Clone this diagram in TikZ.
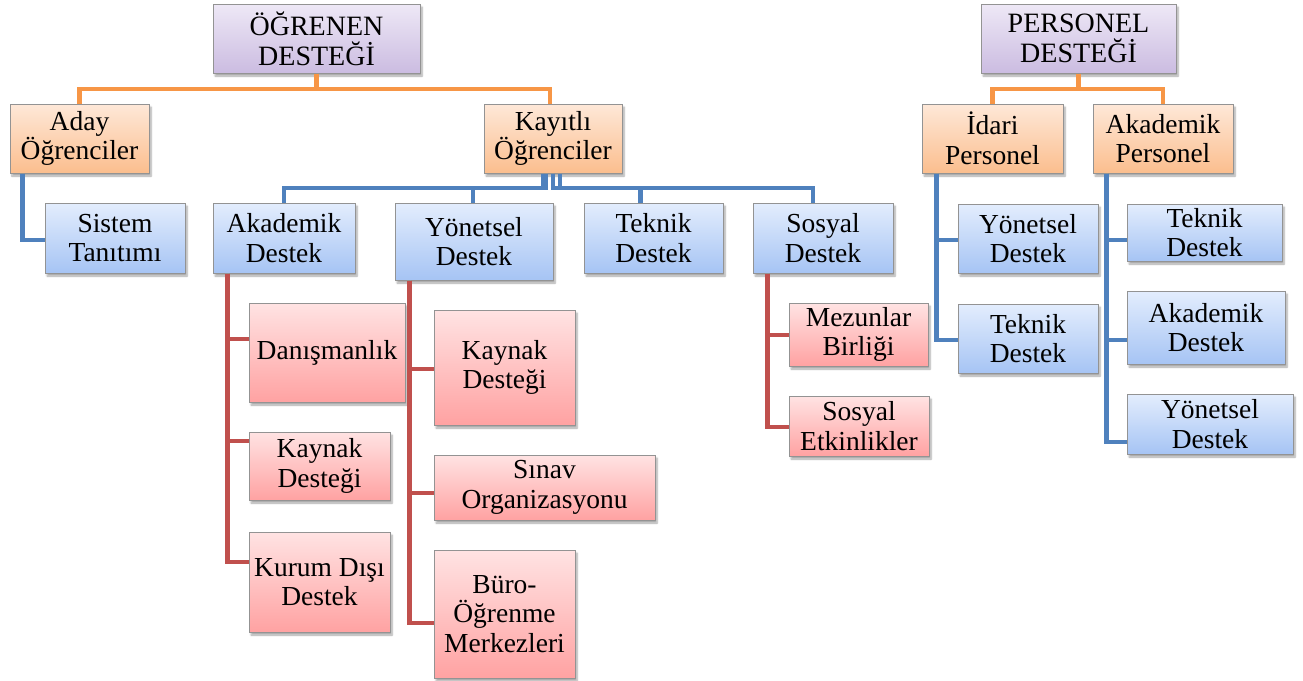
\documentclass[tikz,border=0pt]{standalone}
\usepackage{fontspec}
\setmainfont{Liberation Serif}
\usetikzlibrary{shadows.blur}
\definecolor{ptop}{HTML}{EEE8F6}
\definecolor{pbot}{HTML}{CBBCE1}
\definecolor{otop}{HTML}{FEE8D8}
\definecolor{obot}{HTML}{FBBE8E}
\definecolor{btop}{HTML}{E3EDFD}
\definecolor{bbot}{HTML}{A6C4F4}
\definecolor{rtop}{HTML}{FFE3E3}
\definecolor{rbot}{HTML}{FFA2A2}
\definecolor{oline}{HTML}{F79646}
\definecolor{bline}{HTML}{4F81BD}
\definecolor{rline}{HTML}{C0504D}
\tikzset{
  box/.style={rectangle, draw=gray!85, line width=1pt, inner sep=0pt, align=center,
    font=\fontsize{27.5}{29.5}\selectfont,
    blur shadow={shadow xshift=2pt, shadow yshift=-3pt, shadow blur steps=6, shadow opacity=35}},
  pbox/.style={box, top color=ptop, bottom color=pbot, font=\fontsize{28}{30}\selectfont},
  obox/.style={box, top color=otop, bottom color=obot},
  bbox/.style={box, top color=btop, bottom color=bbot},
  rbox/.style={box, top color=rtop, bottom color=rbot},
  oconn/.style={draw=oline, line width=4.5pt},
  bconn/.style={draw=bline, line width=4.5pt},
  rconn/.style={draw=rline, line width=4.5pt},
}
\begin{document}
\begin{tikzpicture}[x=1pt,y=-1pt]
\useasboundingbox (0,0) rectangle (1303,680);
% top level
\node[pbox, minimum width=207, minimum height=69] (ogr) at (316.5,38.5) {ÖĞRENEN\\DESTEĞİ};
\node[pbox, minimum width=195, minimum height=69] (per) at (1078.5,38.5) {PERSONEL\\DESTEĞİ};
% second level
\node[obox, minimum width=139, minimum height=69] (aday) at (79.5,138.5) {Aday\\Öğrenciler};
\node[obox, minimum width=138, minimum height=69] (kay) at (553,138.5) {Kayıtlı\\Öğrenciler};
\node[obox, minimum width=141, minimum height=69] (ida) at (992.5,138.5) {İdari\\Personel};
\node[obox, minimum width=140, minimum height=69] (akp) at (1163,138.5) {Akademik\\Personel};
% third level
\node[bbox, minimum width=140, minimum height=70] (sis) at (115,238) {Sistem\\Tanıtımı};
\node[bbox, minimum width=142, minimum height=70] (akd) at (284,238) {Akademik\\Destek};
\node[bbox, minimum width=158, minimum height=77] (yon) at (474,241.5) {Yönetsel\\Destek};
\node[bbox, minimum width=139, minimum height=70] (tek) at (653.5,238) {Teknik\\Destek};
\node[bbox, minimum width=140, minimum height=70] (sos) at (823,238) {Sosyal\\Destek};
\node[bbox, minimum width=140, minimum height=69] (iyon) at (1028,238.5) {Yönetsel\\Destek};
\node[bbox, minimum width=140, minimum height=69] (itek) at (1028,338.5) {Teknik\\Destek};
\node[bbox, minimum width=155, minimum height=57] (atek) at (1204.5,232.5) {Teknik\\Destek};
\node[bbox, minimum width=158, minimum height=73] (aakd) at (1206,327.5) {Akademik\\Destek};
\node[bbox, minimum width=166, minimum height=60] (ayon) at (1210,424) {Yönetsel\\Destek};
% fourth level
\node[rbox, minimum width=156, minimum height=99] (dan) at (327,352.5) {Danışmanlık};
\node[rbox, minimum width=141, minimum height=68] (kd1) at (319.5,466) {Kaynak\\Desteği};
\node[rbox, minimum width=141, minimum height=100] (kur) at (319.5,582) {Kurum Dışı\\Destek};
\node[rbox, minimum width=141, minimum height=115] (kd2) at (504.5,367.5) {Kaynak\\Desteği};
\node[rbox, minimum width=221, minimum height=65] (sin) at (544.5,487.5) {Sınav\\Organizasyonu};
\node[rbox, minimum width=141, minimum height=128] (bur) at (504.5,614) {Büro-\\Öğrenme\\Merkezleri};
\node[rbox, minimum width=139, minimum height=63] (mez) at (858.5,334.5) {Mezunlar\\Birliği};
\node[rbox, minimum width=140, minimum height=60] (etk) at (859,426) {Sosyal\\Etkinlikler};
% bars
\coordinate (obar) at (0,89);
\coordinate (bbar) at (0,188);
% orange connectors
\draw[oconn] (ogr.south) -- (ogr.south |- obar) -| (aday.north);
\draw[oconn] (ogr.south) -- (ogr.south |- obar) -| ([xshift=-3pt]kay.north);
\draw[oconn] (per.south) -- (per.south |- obar) -| (ida.north);
\draw[oconn] (per.south) -- (per.south |- obar) -| (akp.north);
% blue connectors
\draw[bconn] ([xshift=13pt]aday.south west) |- ([yshift=-2pt]sis.west);
\draw[bconn] ([xshift=-10pt]kay.south) -- ([xshift=-10pt]kay.south |- bbar) -| (akd.north);
\draw[bconn] ([xshift=-7pt]kay.south) -- ([xshift=-7pt]kay.south |- bbar) -| ([xshift=-1pt]yon.north);
\draw[bconn] (kay.south) -- (kay.south |- bbar) -| ([xshift=-13pt]tek.north);
\draw[bconn] ([xshift=7pt]kay.south) -- ([xshift=7pt]kay.south |- bbar) -| ([xshift=-10pt]sos.north);
\draw[bconn] ([xshift=15pt]ida.south west) |- ([yshift=-1.5pt]iyon.west);
\draw[bconn] ([xshift=15pt]ida.south west) |- ([yshift=-1.5pt]itek.west);
\draw[bconn] ([xshift=14pt]akp.south west) |- ([yshift=-7.5pt]atek.west);
\draw[bconn] ([xshift=14pt]akp.south west) |- ([yshift=-12.5pt]aakd.west);
\draw[bconn] ([xshift=14pt]akp.south west) |- ([yshift=-18pt]ayon.west);
% red connectors
\draw[rconn] ([xshift=15pt]akd.south west) |- ([yshift=13.5pt]dan.west);
\draw[rconn] ([xshift=15pt]akd.south west) |- ([yshift=25pt]kd1.west);
\draw[rconn] ([xshift=15pt]akd.south west) |- ([yshift=20pt]kur.west);
\draw[rconn] ([xshift=15pt]yon.south west) |- ([yshift=-1.5pt]kd2.west);
\draw[rconn] ([xshift=15pt]yon.south west) |- ([yshift=-5.5pt]sin.west);
\draw[rconn] ([xshift=15pt]yon.south west) |- ([yshift=-9pt]bur.west);
\draw[rconn] ([xshift=15pt]sos.south west) |- ([yshift=-0.5pt]mez.west);
\draw[rconn] ([xshift=15pt]sos.south west) |- ([yshift=-1pt]etk.west);
\end{tikzpicture}
\end{document}
